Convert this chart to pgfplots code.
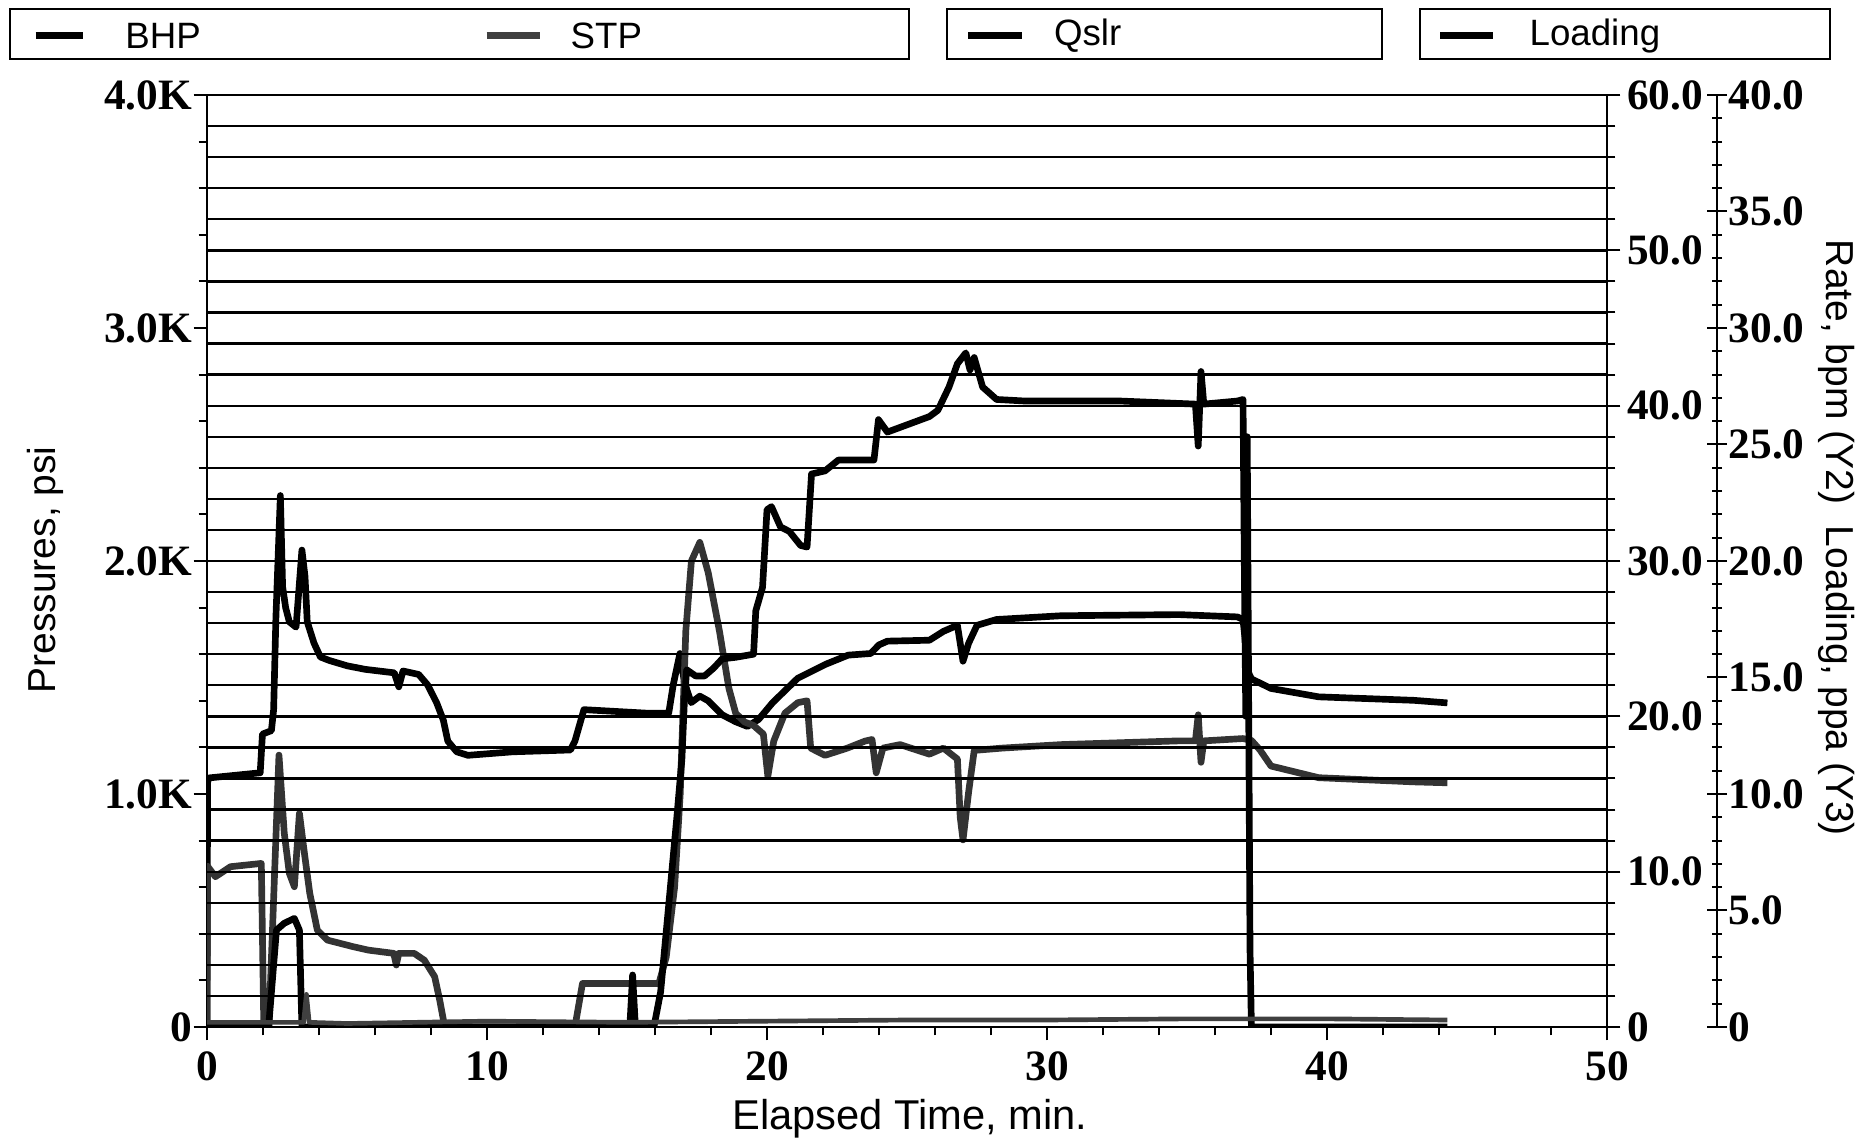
\documentclass[border=0pt]{standalone}
\usepackage{pgfplots}
\pgfplotsset{compat=1.18}
\usepackage{fontspec}
\setmainfont{Liberation Sans}
\newfontfamily\tickfont{Liberation Serif}

% one image pixel = 0.3pt ; picture 1862 x 1140 px
\pgfplotsset{
  every axis plot/.append style={no marks, line width=2pt, line join=round},
  tick label style={font=\tickfont\bfseries\fontsize{13}{13}\selectfont},
  axis line style={line width=0.7pt},
  every tick/.style={black, line width=0.6pt},
}

\begin{document}
\begin{tikzpicture}[x=1pt,y=1pt]
\useasboundingbox (0,0) rectangle (558.6,342);

% ---- pressures, left axis
\begin{axis}[
  at={(62.1pt,33.9pt)}, anchor=south west, scale only axis,
  width=420pt, height=279.6pt,
  xmin=0, xmax=50, ymin=0, ymax=4000,
  xtick={0,10,...,50}, xticklabels={0,10,20,30,40,50}, minor x tick num=4,
  ytick={0,1000,...,4000}, yticklabels={0,1.0K,2.0K,3.0K,4.0K},
  minor ytick={0,200,...,4000},
  xtick pos=bottom, ytick pos=left, tick align=outside,
  major tick length=4pt, minor tick length=2.5pt,
  yticklabel style={xshift=3pt},
]
% BHP
\addplot[black] coordinates {
(0,0)(0.02,1050)(0.07,1069)(1.9,1091)(1.98,1257)(2.3,1272)(2.38,1362)(2.46,1754)(2.62,2281)
(2.7,1889)(2.81,1799)(2.94,1739)(3.18,1716)(3.29,1889)(3.39,2047)(3.5,1934)(3.58,1739)
(3.82,1648)(4.05,1588)(4.37,1573)(5.01,1550)(5.65,1535)(6.69,1520)(6.85,1460)(7.0,1528)
(7.56,1513)(7.88,1468)(8.2,1392)(8.44,1317)(8.6,1227)(8.92,1181)(9.32,1166)(10.91,1181)
(12.98,1189)(13.14,1227)(13.46,1362)(15.69,1347)(16.49,1347)(16.65,1468)(16.89,1603)
(17.05,1480)(17.29,1392)(17.6,1420)(17.9,1400)(18.4,1340)(18.88,1310)(19.3,1290)
(19.7,1320)(20.2,1392)(21.1,1497)(22.1,1557)(22.9,1596)(23.7,1603)(24.0,1640)(24.3,1656)
(25.8,1660)(26.3,1698)(26.8,1724)(27.0,1570)(27.2,1647)(27.5,1724)(28.2,1749)(30.5,1765)
(34.7,1770)(36.8,1760)(37.0,1749)(37.2,1520)(37.3,1494)(38.0,1453)(39.7,1417)(43.1,1402)
(44.3,1391)
};
% STP
\addplot[black!80] coordinates {
(0,0)(0.02,690)(0.3,645)(0.84,688)(1.94,702)(2.03,0)(2.21,0)(2.57,1167)(2.76,831)(2.94,660)
(3.12,602)(3.3,917)(3.48,745)(3.67,574)(3.94,416)(4.3,373)(5.21,345)(5.76,330)(6.67,316)
(6.76,266)(6.85,316)(7.4,316)(7.76,287)(8.13,216)(8.31,116)(8.49,0)(13.14,0)(13.41,187)
(16.14,187)(16.4,300)(16.7,600)(16.9,1000)(17.1,1700)(17.3,2000)(17.6,2080)(17.9,1950)
(18.3,1700)(18.64,1453)(18.88,1347)(19.2,1309)(19.52,1294)(19.87,1257)(20.03,1076)
(20.24,1227)(20.64,1347)(21.1,1392)(21.43,1400)(21.56,1197)(22.07,1166)(22.87,1197)
(23.5,1227)(23.75,1234)(23.9,1091)(24.14,1197)(24.75,1212)(25.8,1171)(26.3,1197)
(26.8,1150)(26.9,900)(27.0,803)(27.2,1008)(27.4,1187)(28.4,1197)(30.5,1212)(34.7,1228)
(35.3,1228)(35.4,1340)(35.5,1136)(35.6,1228)(37.0,1238)(37.3,1230)(37.6,1190)(38.0,1120)
(39.7,1070)(43.1,1052)(44.3,1048)
};
\end{axis}

% ---- rate, Y2 axis with the grid
\begin{axis}[
  at={(62.1pt,33.9pt)}, anchor=south west, scale only axis,
  width=420pt, height=279.6pt,
  xmin=0, xmax=50, ymin=0, ymax=60,
  axis x line=none, axis y line*=right,
  ytick={0,10,...,60}, yticklabels={0,10.0,20.0,30.0,40.0,50.0,60.0},
  minor ytick={0,2,...,60},
  ymajorgrids, yminorgrids,
  major grid style={black, line width=0.7pt},
  minor grid style={black, line width=0.7pt},
  tick align=outside, major tick length=4pt, minor tick length=2.5pt,
  yticklabel style={xshift=-1.5pt},
]
% Qslr
\addplot[black] coordinates {
(0,0)(2.2,0)(2.48,6.24)(2.76,6.68)(3.12,6.99)(3.3,6.24)(3.39,0)(15.1,0)(15.2,3.35)
(15.3,0)(15.96,0)(16.2,2.25)(16.51,8.25)(16.78,13.5)(16.96,17.25)(17.05,21)(17.13,23.0)
(17.45,22.6)(17.77,22.6)(18.09,23.1)(18.4,23.7)(18.88,23.8)(19.52,24.0)(19.6,26.8)
(19.84,28.3)(20.0,33.3)(20.16,33.5)(20.48,32.2)(20.8,31.9)(21.2,31.0)(21.43,30.9)
(21.59,35.6)(22.07,35.8)(22.55,36.5)(23.82,36.5)(23.98,39.1)(24.3,38.3)(24.6,38.5)
(25.8,39.3)(26.1,39.7)(26.5,41.2)(26.8,42.7)(27.1,43.4)(27.25,42.3)(27.4,43.1)
(27.7,41.2)(28.2,40.4)(29.2,40.3)(32.6,40.3)(35.3,40.1)(35.4,37.4)(35.5,42.2)(35.6,40.1)
(36.8,40.3)(37.0,40.4)(37.05,29)(37.1,20)(37.15,38)(37.25,5)(37.3,0)(44.3,0)
};
\end{axis}

% ---- loading, Y3 axis further right
\begin{axis}[
  at={(62.1pt,33.9pt)}, anchor=south west, scale only axis,
  width=453pt, height=279.6pt,
  xmin=0, xmax=53.9286, ymin=0, ymax=40,
  axis x line=none, axis y line*=right,
  ytick={0,5,...,40}, yticklabels={0,5.0,10.0,15.0,20.0,25.0,30.0,35.0,40.0},
  minor ytick={0,1,...,40},
  tick align=center, major tick length=6pt, minor tick length=3pt,
  yticklabel style={xshift=-3pt},
]
% Loading
\addplot[black!75, line width=1.4pt] coordinates {
(0,0.2)(3.45,0.2)(3.55,1.4)(3.65,0.2)(5,0.15)(10,0.25)(15,0.2)(20,0.25)(25,0.3)(30,0.3)
(35,0.35)(40,0.35)(44.3,0.3)
};
\end{axis}

% ---- axis titles
\node[rotate=90, font=\fontsize{11.7}{12}\selectfont] at (13.5,171) {Pressures, psi};
\node[anchor=base, font=\fontsize{12.5}{13}\selectfont] at (273,3) {Elapsed Time, min.};
\node[rotate=-90, font=\fontsize{11.7}{12}\selectfont] at (551,180.6) {Rate, bpm (Y2)\ \ Loading, ppa (Y3)};

% ---- legend boxes
\begin{scope}[font=\fontsize{11}{12}\selectfont]
\draw[line width=0.7pt] (2.9,324.3) rectangle (272.6,339.2);
\draw[line width=0.7pt] (284,324.3) rectangle (414.5,339.2);
\draw[line width=0.7pt] (426,324.3) rectangle (549,339.2);
\draw[line width=2pt] (10.7,331.3) -- (25,331.3);
\node[anchor=west, inner sep=0pt] at (37.4,331.3) {BHP};
\draw[line width=2pt, black!75] (146,331.3) -- (162,331.3);
\node[anchor=west, inner sep=0pt] at (171,331.3) {STP};
\draw[line width=2pt] (290.5,331.3) -- (306.5,331.3);
\node[anchor=west, inner sep=0pt] at (316,331.3) {Qslr};
\draw[line width=2pt] (432,331.3) -- (448,331.3);
\node[anchor=west, inner sep=0pt] at (458.7,331.3) {Loading};
\end{scope}
\end{tikzpicture}
\end{document}
